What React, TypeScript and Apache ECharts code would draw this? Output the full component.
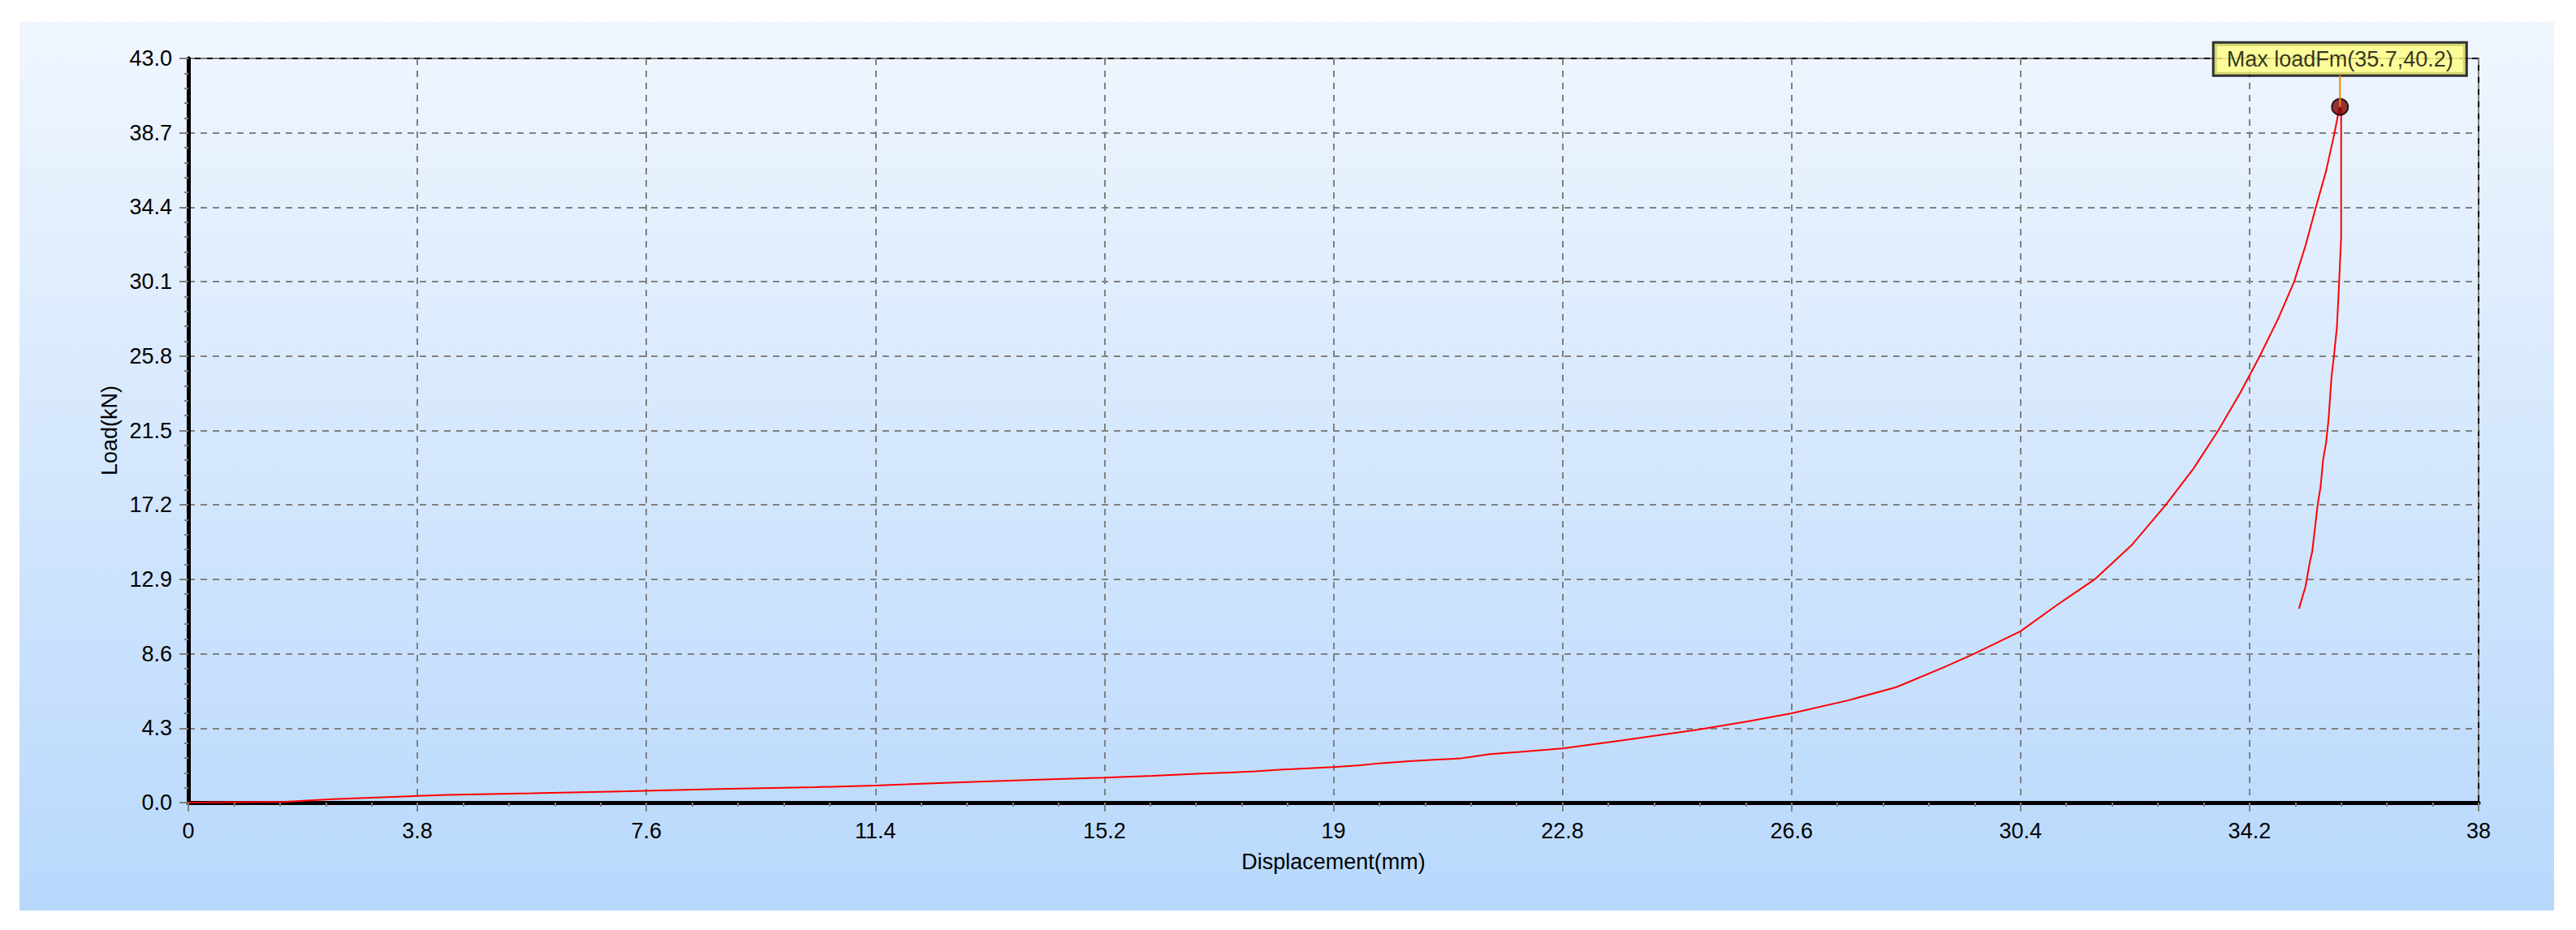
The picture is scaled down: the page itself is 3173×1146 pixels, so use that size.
import React, { useEffect, useRef } from "react";
import * as echarts from "echarts";

// Displacement (mm) and load (kN)
const displacement = [
  0, 1.6, 2.4, 3.3, 4.3, 5.7, 7.3, 8.8, 10.4, 11.4, 11.9, 13.0, 14.1, 15.2, 16.0, 16.8, 17.7, 18.1,
  19.0, 19.4, 19.8, 20.3, 21.1, 21.3, 21.6, 22.1, 22.8, 23.8, 25.06, 25.87, 26.6, 27.52, 28.34, 29.14,
  29.63, 30.4, 31.01, 31.63, 32.24, 32.81, 33.27, 33.68, 34.05, 34.37, 34.68, 34.94, 35.13, 35.3,
  35.47, 35.61, 35.66, 35.7, 35.72, 35.72, 35.68, 35.65, 35.6, 35.56, 35.51, 35.47, 35.42,
  35.38, 35.33, 35.29, 35.24, 35.2, 35.13, 35.07, 35.02,
];
const load = [
  0, 0.05, 0.2, 0.32, 0.44, 0.54, 0.66, 0.78, 0.89, 0.99, 1.05, 1.2, 1.32, 1.44, 1.55, 1.68, 1.8, 1.9,
  2.05, 2.15, 2.28, 2.4, 2.55, 2.65, 2.8, 2.93, 3.13, 3.6, 4.22, 4.69, 5.16, 5.89, 6.67, 7.84,
  8.6, 9.9, 11.43, 12.9, 14.86, 17.2, 19.3, 21.5, 23.7, 25.8, 28.0, 30.1, 32.2, 34.4,
  36.5, 38.7, 39.6, 40.2, 40.0, 32.7, 29.6, 27.5, 25.8, 24.6, 22.1, 20.8, 19.8,
  18.3, 17.2, 16.0, 14.5, 13.9, 12.5, 11.8, 11.2,
];
const maxLoadPoint = [35.7, 40.2];
const maxLabel = "Max loadFm(35.7,40.2)";
const xMax = 38;
const xInterval = 3.8;
const yMax = 43;
const yInterval = 4.3;
const xName = "Displacement(mm)";
const yName = "Load(kN)";

const FONT = "'Liberation Sans', Arial, sans-serif";

export default function App() {
  const ref = useRef<HTMLDivElement>(null);
  useEffect(() => {
    if (!ref.current) return;
    const chart = echarts.init(ref.current, null, { renderer: "svg" });
    const data = displacement.map((x, i) => [x, load[i]]);
    const axisCommon = {
      axisLine: { show: true, onZero: false, lineStyle: { color: "#000", width: 5 } },
      axisTick: { show: true, inside: false, length: 11, lineStyle: { color: "#808080", width: 2 } },
      minorTick: { show: true, splitNumber: 5, length: 5, lineStyle: { color: "#808080", width: 2 } },
      splitLine: { show: true, lineStyle: { color: "#808080", width: 2, type: [8, 7] } },
      minorSplitLine: { show: false },
    };
    chart.setOption({
      animation: false,
      backgroundColor: "#ffffff",
      graphic: [
        {
          id: "panel",
          type: "rect",
          z: -100,
          silent: true,
          shape: { x: 24, y: 27, width: 3122, height: 1095 },
          style: {
            fill: new echarts.graphic.LinearGradient(0, 0, 0, 1, [
              { offset: 0, color: "#f0f6fe" },
              { offset: 1, color: "#b8d8fc" },
            ]),
          },
        },
      ],
      grid: {
        left: 232,
        top: 72,
        right: 120,
        bottom: 157,
        show: true,
        backgroundColor: "transparent",
        borderColor: "#000",
        borderWidth: 2,
      },
      xAxis: {
        type: "value",
        min: 0,
        max: xMax,
        interval: xInterval,
        name: xName,
        nameLocation: "middle",
        nameGap: 59,
        nameTextStyle: { color: "#000", fontSize: 27, fontFamily: FONT },
        axisLabel: {
          color: "#000",
          fontSize: 27,
          fontFamily: FONT,
          margin: 21,
          formatter: (v: number) => String(parseFloat(v.toFixed(2))),
        },
        ...axisCommon,
      },
      yAxis: {
        type: "value",
        min: 0,
        max: yMax,
        interval: yInterval,
        name: yName,
        nameLocation: "middle",
        nameGap: 83,
        nameRotate: 90,
        nameTextStyle: { color: "#000", fontSize: 27, fontFamily: FONT },
        axisLabel: {
          color: "#000",
          fontSize: 27,
          fontFamily: FONT,
          margin: 20,
          formatter: (v: number) => v.toFixed(1),
        },
        ...axisCommon,
      },
      series: [
        {
          type: "line",
          data,
          showSymbol: false,
          symbol: "none",
          lineStyle: { color: "#ff0000", width: 2 },
          z: 3,
        },
        {
          type: "scatter",
          data: [maxLoadPoint],
          symbol: "circle",
          symbolSize: 20,
          itemStyle: { color: "#800000", borderColor: "#000", borderWidth: 2 },
          z: 5,
          label: {
            show: true,
            position: "top",
            distance: 29,
            formatter: () => maxLabel,
            color: "#000",
            fontSize: 27,
            fontFamily: FONT,
            backgroundColor: "#ffff80",
            borderColor: "#000",
            borderWidth: 3,
            padding: [6, 15, 5, 15],
          },
        },
      ],
    });
    const p = chart.convertToPixel({ xAxisIndex: 0, yAxisIndex: 0 }, maxLoadPoint) as number[];
    if (p) {
      chart.setOption({
        graphic: [
          {
            id: "connector",
            type: "line",
            z: 10,
            silent: true,
            shape: { x1: p[0], y1: p[1] - 39, x2: p[0], y2: p[1] },
            style: { stroke: "#ff8000", lineWidth: 2 },
          },
        ],
      });
    }
    return () => chart.dispose();
  }, []);
  return (
    <div
      ref={ref}
      style={{ position: "fixed", left: 0, top: 0, width: 3173, height: 1146 }}
    />
  );
}
